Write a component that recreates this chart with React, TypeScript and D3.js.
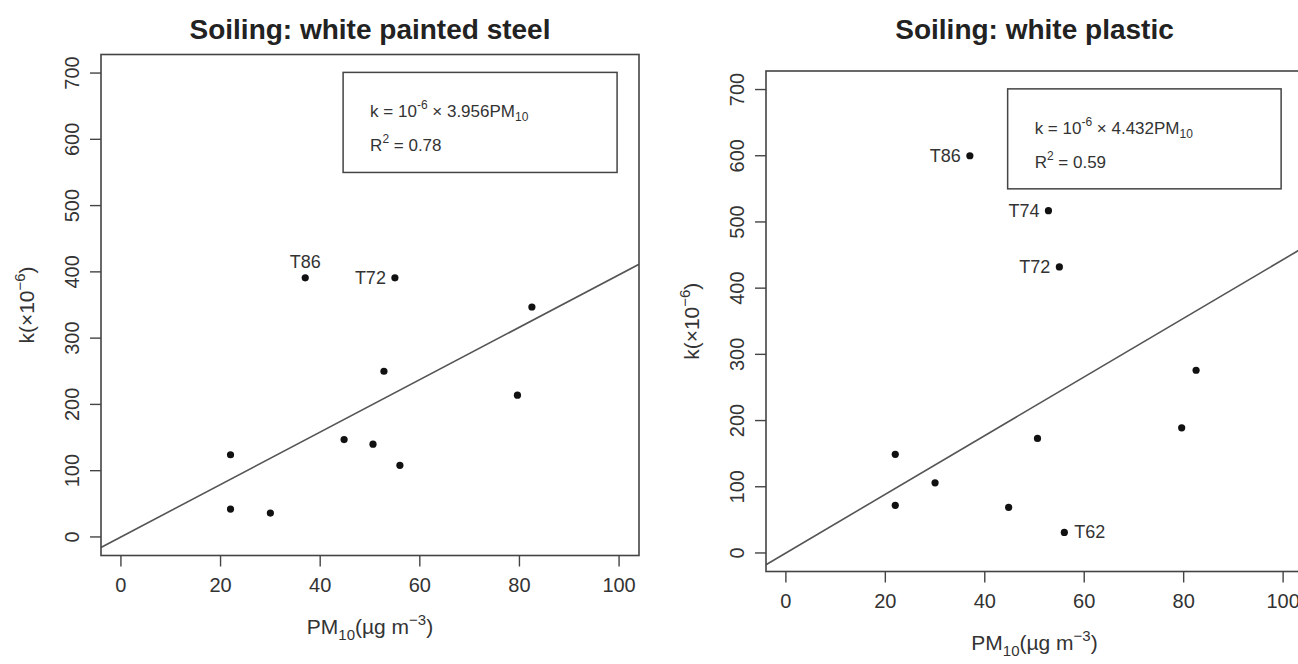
import React from "react";
import * as d3 from "d3";

// PM10 concentration of each site (same sites in both panels)
const pm10 = [22, 22, 30, 37, 44.8, 50.6, 52.8, 55, 56, 79.6, 82.5];
// soiling rate k (x10^-6)
const steelK = [124, 42, 36, 391, 147, 140, 250, 391, 108, 214, 347];
const plasticK = [149, 72, 106, 600, 69, 173, 517, 432, 31, 189, 276];
// site tags shown next to some points
const steelTags = ["", "", "", "T86", "", "", "", "T72", "", "", ""];
const plasticTags = ["", "", "", "T86", "", "", "T74", "T72", "T62", "", ""];
const steelTagSide = ["", "", "", "top", "", "", "", "left", "", "", ""];
const plasticTagSide = ["", "", "", "left", "", "", "left", "left", "right", "", ""];

const xTicks = [0, 20, 40, 60, 80, 100];
const yTicks = [0, 100, 200, 300, 400, 500, 600, 700];

const FONT = "'Liberation Sans', Arial, Helvetica, sans-serif";
const INK = "#333";
const AXIS = "#444";

type PanelProps = {
  title: string;
  values: number[];
  tags: string[];
  sides: string[];
  slope: number;
  r2: string;
  box: { left: number; right: number; top: number; bottom: number };
};

function Panel({ title, values, tags, sides, slope, r2, box }: PanelProps) {
  // R style: limits 0..100 and 0..700 with 4% padding
  const x = d3.scaleLinear().domain([-4, 104]).range([box.left, box.right]);
  const y = d3.scaleLinear().domain([-28, 728]).range([box.bottom, box.top]);
  const cx = (box.left + box.right) / 2;
  const cy = (box.top + box.bottom) / 2;
  const clipId = "clip" + Math.round(box.left);

  const fit = d3
    .line<number>()
    .x((d) => x(d))
    .y((d) => y(d * slope));

  const lgLeft = x(44.6);
  const lgRight = x(99.6);
  const lgTop = y(701);
  const lgBottom = y(550);

  return (
    <g>
      <defs>
        <clipPath id={clipId}>
          <rect x={box.left} y={box.top} width={box.right - box.left} height={box.bottom - box.top} />
        </clipPath>
      </defs>
      <text x={cx} y={39} textAnchor="middle" fontSize={28} fontWeight="bold" fill="#222">
        {title}
      </text>

      {/* fitted line through origin */}
      <path
        d={fit([-4, 104]) || ""}
        fill="none"
        stroke="#555"
        strokeWidth={1.6}
        clipPath={`url(#${clipId})`}
      />

      {pm10.map((v, i) => (
        <circle key={i} cx={x(v)} cy={y(values[i])} r={3.6} fill="#111" />
      ))}

      {tags.map((t, i) => {
        if (!t) return null;
        const px = x(pm10[i]);
        const py = y(values[i]);
        if (sides[i] === "top")
          return (
            <text key={i} x={px} y={py - 10} textAnchor="middle" fontSize={18} fill={INK}>
              {t}
            </text>
          );
        if (sides[i] === "left")
          return (
            <text key={i} x={px - 9} y={py + 6} textAnchor="end" fontSize={18} fill={INK}>
              {t}
            </text>
          );
        return (
          <text key={i} x={px + 10} y={py + 6} textAnchor="start" fontSize={18} fill={INK}>
            {t}
          </text>
        );
      })}

      {/* legend */}
      <rect x={lgLeft} y={lgTop} width={lgRight - lgLeft} height={lgBottom - lgTop} fill="none" stroke={AXIS} strokeWidth={1.5} />
      <text x={lgLeft + 27} y={lgTop + 45} fontSize={17} fill={INK}>
        <tspan>k = 10</tspan>
        <tspan dy={-8} fontSize={12}>-6</tspan>
        <tspan dy={8}> × {slope.toFixed(3)}PM</tspan>
        <tspan dy={4} fontSize={12}>10</tspan>
      </text>
      <text x={lgLeft + 27} y={lgTop + 79} fontSize={17} fill={INK}>
        <tspan>R</tspan>
        <tspan dy={-8} fontSize={12}>2</tspan>
        <tspan dy={8}> = {r2}</tspan>
      </text>

      {/* box */}
      <rect x={box.left} y={box.top} width={box.right - box.left} height={box.bottom - box.top} fill="none" stroke={AXIS} strokeWidth={1.6} />

      {/* x axis */}
      {xTicks.map((t) => (
        <g key={t}>
          <line x1={x(t)} x2={x(t)} y1={box.bottom} y2={box.bottom + 11} stroke={AXIS} strokeWidth={1.4} />
          <text x={x(t)} y={box.bottom + 36} textAnchor="middle" fontSize={20} fill={INK}>
            {t}
          </text>
        </g>
      ))}
      <text x={cx} y={box.bottom + 78} textAnchor="middle" fontSize={21} fill={INK}>
        <tspan>PM</tspan>
        <tspan dy={6} fontSize={15}>10</tspan>
        <tspan dy={-6}>(µg m</tspan>
        <tspan dy={-9} fontSize={15}>−3</tspan>
        <tspan dy={9}>)</tspan>
      </text>

      {/* y axis */}
      {yTicks.map((t) => (
        <g key={t}>
          <line x1={box.left - 11} x2={box.left} y1={y(t)} y2={y(t)} stroke={AXIS} strokeWidth={1.4} />
          <text
            transform={`translate(${box.left - 22},${y(t)}) rotate(-90)`}
            textAnchor="middle"
            fontSize={20}
            fill={INK}
          >
            {t}
          </text>
        </g>
      ))}
      <text
        transform={`translate(${box.left - 67},${cy}) rotate(-90)`}
        textAnchor="middle"
        fontSize={21}
        fill={INK}
      >
        <tspan>k(×10</tspan>
        <tspan dy={-9} fontSize={15}>−6</tspan>
        <tspan dy={9}>)</tspan>
      </text>
    </g>
  );
}

export default function App() {
  return (
    <svg
      width={1298}
      height={664}
      style={{ position: "absolute", left: 0, top: 0, background: "#fff", fontFamily: FONT }}
    >
      <Panel
        title="Soiling: white painted steel"
        values={steelK}
        tags={steelTags}
        sides={steelTagSide}
        slope={3.956}
        r2="0.78"
        box={{ left: 101, right: 639, top: 54.5, bottom: 555.5 }}
      />
      <Panel
        title="Soiling: white plastic"
        values={plasticK}
        tags={plasticTags}
        sides={plasticTagSide}
        slope={4.432}
        r2="0.59"
        box={{ left: 766, right: 1303, top: 71, bottom: 571.5 }}
      />
    </svg>
  );
}
